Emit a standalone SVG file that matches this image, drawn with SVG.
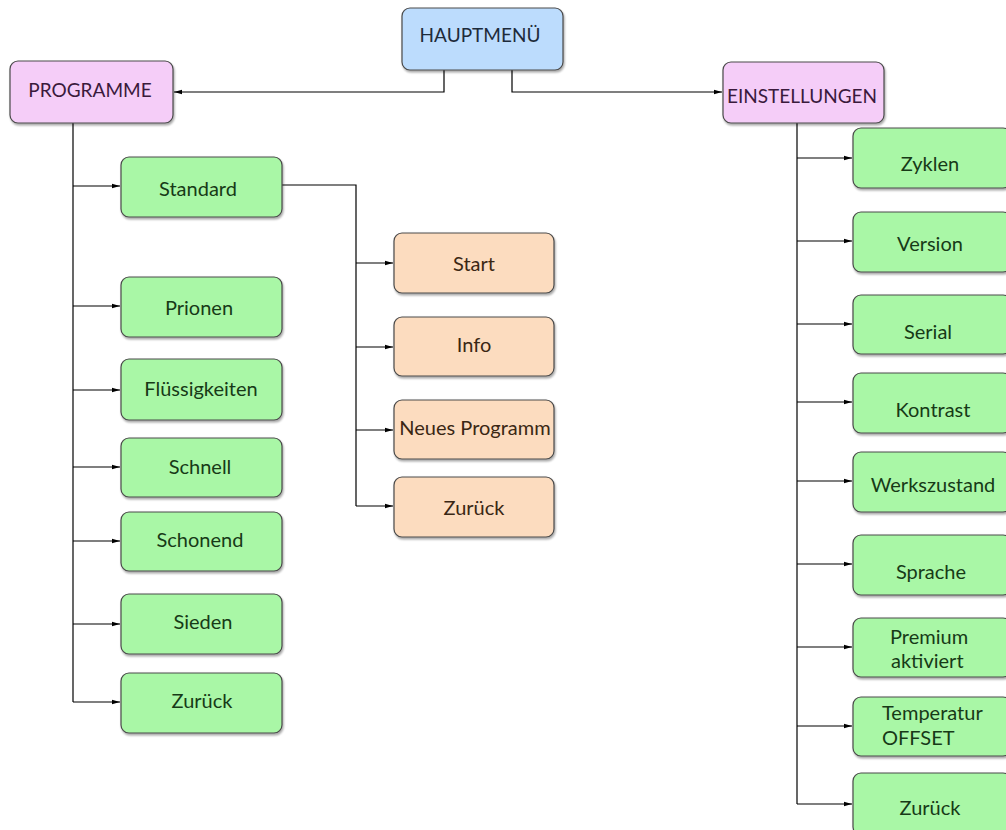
<svg xmlns="http://www.w3.org/2000/svg" width="1006" height="830" viewBox="0 0 1006 830">
<defs>
<marker id="arr" viewBox="0 0 8 6" refX="8" refY="3" markerWidth="8" markerHeight="6" markerUnits="userSpaceOnUse" orient="auto">
<path d="M0,0.8 L8,3 L0,5.2 Z" fill="#000"/>
</marker>
<filter id="sh" x="-5%" y="-5%" width="115%" height="120%">
<feGaussianBlur in="SourceAlpha" stdDeviation="1.2"/>
<feOffset dx="1" dy="1.5" result="b"/>
<feComponentTransfer><feFuncA type="linear" slope="0.35"/></feComponentTransfer>
<feMerge><feMergeNode/><feMergeNode in="SourceGraphic"/></feMerge>
</filter>
</defs>
<style>
rect{stroke:#4a4a4a;stroke-width:1.2;filter:url(#sh)}
.blue rect{fill:#bcdcfd}
.pink rect{fill:#f5cdf8}
.green rect{fill:#a9f7a6}
.orange rect{fill:#fcdcbf}
text{font-family:"Lato","Liberation Sans",sans-serif;font-size:20px;text-anchor:middle}
.blue text,.pink text{font-size:19px}
.blue text{fill:#1e2b3a}
.pink text{fill:#3a1a3c}
.green text{fill:#173a17}
.orange text{fill:#3a2714}
.l text{text-anchor:start}
#connectors path,#connectors line{stroke:#000;stroke-width:1.2;fill:none}
.a{marker-end:url(#arr)}
</style>
<rect width="1006" height="830" fill="#fff" style="stroke:none;filter:none"/>
<g id="connectors">
<path class="a" d="M444,70 V92 H174"/>
<path class="a" d="M512,70 V92 H722"/>
<line x1="73" y1="123" x2="73" y2="702"/>
<line class="a" x1="73" y1="186" x2="120" y2="186"/>
<line class="a" x1="73" y1="306" x2="120" y2="306"/>
<line class="a" x1="73" y1="390" x2="120" y2="390"/>
<line class="a" x1="73" y1="467" x2="120" y2="467"/>
<line class="a" x1="73" y1="541" x2="120" y2="541"/>
<line class="a" x1="73" y1="624" x2="120" y2="624"/>
<line class="a" x1="73" y1="702" x2="120" y2="702"/>
<path d="M282,185 H356 V506"/>
<line class="a" x1="356" y1="263" x2="393" y2="263"/>
<line class="a" x1="356" y1="347" x2="393" y2="347"/>
<line class="a" x1="356" y1="430" x2="393" y2="430"/>
<line class="a" x1="356" y1="506" x2="393" y2="506"/>
<line x1="797" y1="123" x2="797" y2="804"/>
<line class="a" x1="797" y1="158" x2="852" y2="158"/>
<line class="a" x1="797" y1="241" x2="852" y2="241"/>
<line class="a" x1="797" y1="324" x2="852" y2="324"/>
<line class="a" x1="797" y1="402" x2="852" y2="402"/>
<line class="a" x1="797" y1="481" x2="852" y2="481"/>
<line class="a" x1="797" y1="564" x2="852" y2="564"/>
<line class="a" x1="797" y1="647" x2="852" y2="647"/>
<line class="a" x1="797" y1="726" x2="852" y2="726"/>
<line class="a" x1="797" y1="804" x2="852" y2="804"/>
</g>
<g id="hauptmenue" class="blue"><rect x="402" y="8" width="161" height="62" rx="8"/><text x="480" y="42">HAUPTMENÜ</text></g>
<g id="programme" class="pink"><rect x="10" y="61" width="163" height="62" rx="8"/><text x="90" y="97">PROGRAMME</text></g>
<g id="einstellungen" class="pink"><rect x="723" y="62" width="161" height="61" rx="8"/><text x="802" y="103">EINSTELLUNGEN</text></g>
<g id="standard" class="green"><rect x="121" y="157" width="161" height="60" rx="8"/><text x="198" y="196">Standard</text></g>
<g id="prionen" class="green"><rect x="121" y="277" width="161" height="60" rx="8"/><text x="199" y="315">Prionen</text></g>
<g id="fluessigkeiten" class="green"><rect x="121" y="359" width="161" height="61" rx="8"/><text x="201" y="396">Flüssigkeiten</text></g>
<g id="schnell" class="green"><rect x="121" y="438" width="161" height="59" rx="8"/><text x="200" y="474">Schnell</text></g>
<g id="schonend" class="green"><rect x="121" y="512" width="161" height="59" rx="8"/><text x="200" y="547">Schonend</text></g>
<g id="sieden" class="green"><rect x="121" y="594" width="161" height="60" rx="8"/><text x="203" y="629">Sieden</text></g>
<g id="zurueck1" class="green"><rect x="121" y="673" width="161" height="60" rx="8"/><text x="202" y="708">Zurück</text></g>
<g id="start" class="orange"><rect x="394" y="233" width="160" height="60" rx="8"/><text x="474" y="271">Start</text></g>
<g id="info" class="orange"><rect x="394" y="317" width="160" height="59" rx="8"/><text x="474" y="352">Info</text></g>
<g id="neues-programm" class="orange"><rect x="394" y="400" width="160" height="59" rx="8"/><text x="475" y="435">Neues Programm</text></g>
<g id="zurueck2" class="orange"><rect x="394" y="477" width="160" height="60" rx="8"/><text x="474" y="515">Zurück</text></g>
<g id="zyklen" class="green"><rect x="853" y="128" width="158" height="60" rx="8"/><text x="930" y="171">Zyklen</text></g>
<g id="version" class="green"><rect x="853" y="212" width="158" height="60" rx="8"/><text x="930" y="251">Version</text></g>
<g id="serial" class="green"><rect x="853" y="295" width="158" height="59" rx="8"/><text x="928" y="339">Serial</text></g>
<g id="kontrast" class="green"><rect x="853" y="373" width="158" height="60" rx="8"/><text x="933" y="417">Kontrast</text></g>
<g id="werkszustand" class="green"><rect x="853" y="452" width="158" height="60" rx="8"/><text x="933" y="492">Werkszustand</text></g>
<g id="sprache" class="green"><rect x="853" y="535" width="158" height="60" rx="8"/><text x="931" y="579">Sprache</text></g>
<g id="premium" class="green l"><rect x="853" y="618" width="158" height="59" rx="8"/><text x="890" y="644">Premium</text><text x="891" y="668">aktiviert</text></g>
<g id="temperatur" class="green l"><rect x="853" y="697" width="158" height="59" rx="8"/><text x="882" y="720">Temperatur</text><text x="882" y="745">OFFSET</text></g>
<g id="zurueck3" class="green"><rect x="853" y="773" width="158" height="62" rx="8"/><text x="930" y="815">Zurück</text></g>
</svg>
